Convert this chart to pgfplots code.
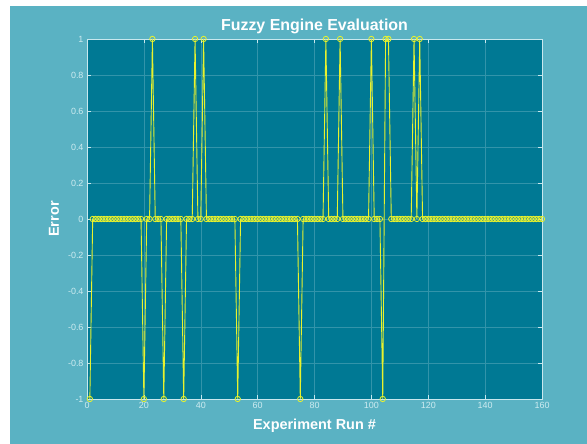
\documentclass[border=0pt]{standalone}
\usepackage{pgfplots}
\pgfplotsset{compat=1.18}
\usepackage{fontspec}
\setmainfont{Liberation Sans}
\setsansfont{Liberation Sans}
\definecolor{outerbg}{RGB}{90,178,195}
\definecolor{innerbg}{RGB}{0,121,148}
\definecolor{gridc}{RGB}{50,148,170}
\definecolor{axc}{RGB}{200,232,238}
\definecolor{lblc}{RGB}{205,235,240}
\definecolor{lineyel}{RGB}{232,242,45}
\begin{document}
\begin{tikzpicture}[x=1bp,y=1bp]
\fill[white] (0,0) rectangle (587,444);
\fill[outerbg] (10,0) rectangle (587,438);
\begin{axis}[
  at={(87bp,45bp)}, anchor=south west,
  scale only axis, width=455bp, height=360bp,
  xmin=0, xmax=160, ymin=-1, ymax=1,
  xtick={0,20,...,160},
  ytick={-1,-0.8,-0.6,-0.4,-0.2,0,0.2,0.4,0.6,0.8,1},
  axis background/.style={fill=innerbg},
  axis line style={draw=axc, line width=0.6bp},
  tick style={draw=axc, line width=0.5bp},
  tick align=inside, major tick length=4bp,
  grid=major, major grid style={draw=gridc, line width=0.5bp},
  /pgf/number format/assume math mode=true,
  tick label style={font=\fontsize{9}{10}\selectfont, text=lblc},
  xlabel={Experiment Run \#},
  ylabel={Error},
  xlabel style={font=\fontsize{14.5}{16}\selectfont\bfseries, text=white, at={(axis description cs:0.5,-0.075)}, anchor=center},
  ylabel style={font=\fontsize{14.5}{16}\selectfont\bfseries, text=white, at={(axis description cs:-0.0725,0.5)}, anchor=center},
  clip=false,
]
\addplot[color=lineyel, line width=0.9bp, mark=o, mark size=2.7bp, mark options={line width=0.8bp}] coordinates {
(1,-1)(2,0)(3,0)(4,0)(5,0)(6,0)(7,0)(8,0)(9,0)(10,0)
(11,0)(12,0)(13,0)(14,0)(15,0)(16,0)(17,0)(18,0)(19,0)(20,-1)
(21,0)(22,0)(23,1)(24,0)(25,0)(26,0)(27,-1)(28,0)(29,0)(30,0)
(31,0)(32,0)(33,0)(34,-1)(35,0)(36,0)(37,0)(38,1)(39,0)(40,0)
(41,1)(42,0)(43,0)(44,0)(45,0)(46,0)(47,0)(48,0)(49,0)(50,0)
(51,0)(52,0)(53,-1)(54,0)(55,0)(56,0)(57,0)(58,0)(59,0)(60,0)
(61,0)(62,0)(63,0)(64,0)(65,0)(66,0)(67,0)(68,0)(69,0)(70,0)
(71,0)(72,0)(73,0)(74,0)(75,-1)(76,0)(77,0)(78,0)(79,0)(80,0)
(81,0)(82,0)(83,0)(84,1)(85,0)(86,0)(87,0)(88,0)(89,1)(90,0)
(91,0)(92,0)(93,0)(94,0)(95,0)(96,0)(97,0)(98,0)(99,0)(100,1)
(101,0)(102,0)(103,0)(104,-1)(105,1)(106,1)(107,0)(108,0)(109,0)(110,0)
(111,0)(112,0)(113,0)(114,0)(115,1)(116,0)(117,1)(118,0)(119,0)(120,0)
(121,0)(122,0)(123,0)(124,0)(125,0)(126,0)(127,0)(128,0)(129,0)(130,0)
(131,0)(132,0)(133,0)(134,0)(135,0)(136,0)(137,0)(138,0)(139,0)(140,0)
(141,0)(142,0)(143,0)(144,0)(145,0)(146,0)(147,0)(148,0)(149,0)(150,0)
(151,0)(152,0)(153,0)(154,0)(155,0)(156,0)(157,0)(158,0)(159,0)(160,0)
};
\end{axis}
\node[anchor=base, inner sep=0pt, font=\fontsize{16}{18}\selectfont\bfseries, text=white] at (314.5,413.3) {Fuzzy Engine Evaluation};
\pgfresetboundingbox
\useasboundingbox (0,0) rectangle (587,444);
\end{tikzpicture}
\end{document}
